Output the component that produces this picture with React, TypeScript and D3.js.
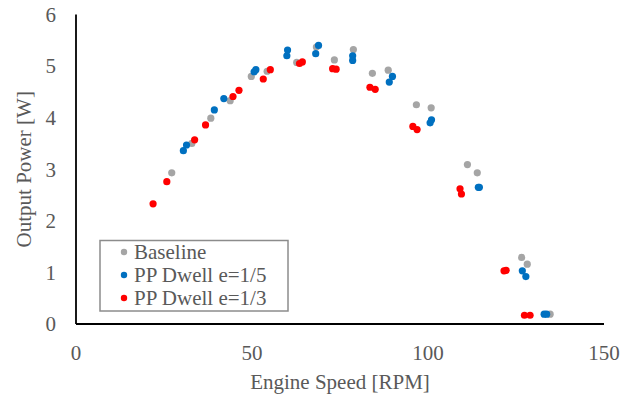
import React from "react";
import * as d3 from "d3";

const xTicks = [0, 50, 100, 150];
const yTicks = [0, 1, 2, 3, 4, 5, 6];

const baselineX = [27.2, 32.9, 38.3, 43.8, 49.8, 54.3, 62.7, 68.3, 73.4, 78.8, 84.2, 88.7, 96.7, 100.9, 111.2, 114.0, 126.6, 128.2, 134.7];
const baselineY = [2.93, 3.5, 3.99, 4.33, 4.8, 4.9, 5.07, 5.37, 5.12, 5.32, 4.86, 4.92, 4.25, 4.19, 3.09, 2.93, 1.29, 1.16, 0.19];

const dwell5X = [30.5, 31.4, 39.3, 42.0, 50.6, 51.1, 59.9, 60.1, 68.1, 68.9, 78.6, 78.6, 89.0, 89.9, 100.6, 101.0, 114.3, 114.6, 126.8, 127.8, 133.0, 133.7];
const dwell5Y = [3.36, 3.47, 4.15, 4.37, 4.89, 4.93, 5.2, 5.31, 5.24, 5.4, 5.2, 5.11, 4.69, 4.8, 3.9, 3.96, 2.65, 2.65, 1.03, 0.92, 0.19, 0.19];

const dwell3X = [21.9, 25.8, 33.7, 36.8, 44.6, 46.3, 53.2, 55.2, 63.5, 64.3, 72.9, 73.9, 83.5, 85.0, 95.7, 96.9, 109.1, 109.5, 121.6, 122.2, 127.4, 129.0];
const dwell3Y = [2.33, 2.76, 3.57, 3.86, 4.41, 4.53, 4.75, 4.93, 5.05, 5.08, 4.95, 4.94, 4.59, 4.55, 3.83, 3.77, 2.62, 2.52, 1.03, 1.04, 0.17, 0.17];

const seriesNames = ["Baseline", "PP Dwell e=1/5", "PP Dwell e=1/3"];
const seriesColors = ["#A5A5A5", "#0070C0", "#FF0000"];

export default function App() {
  const W = 639, H = 403;
  const left = 76, right = 604, top = 14.5, bottom = 324;
  const x = d3.scaleLinear().domain([0, 150]).range([left, right]);
  const y = d3.scaleLinear().domain([0, 6]).range([bottom, top]);
  const series = [
    { xs: baselineX, ys: baselineY },
    { xs: dwell5X, ys: dwell5Y },
    { xs: dwell3X, ys: dwell3Y },
  ];
  const font = "'Liberation Serif', 'Times New Roman', serif";
  const txt = "#595959";
  return (
    <svg width={W} height={H} style={{ position: "absolute", left: 0, top: 0, background: "#fff" }} fontFamily={font}>
      <rect width={W} height={H} fill="#fff" />
      {yTicks.map((t) => (
        <text key={"y" + t} x={56} y={y(t)} dy="0.35em" textAnchor="end" fontSize={21} fill={txt}>{t}</text>
      ))}
      {xTicks.map((t) => (
        <text key={"x" + t} x={x(t)} y={360} textAnchor="middle" fontSize={21} fill={txt}>{t}</text>
      ))}
      {series.map((s, i) => (
        <g key={i}>
          {s.xs.map((v, j) => (
            <circle key={j} cx={x(v)} cy={y(s.ys[j])} r={3.6} fill={seriesColors[i]} />
          ))}
        </g>
      ))}
      <line x1={left} x2={left} y1={top} y2={bottom} stroke="#000" strokeWidth={1.8} />
      <line x1={left} x2={right} y1={bottom} y2={bottom} stroke="#000" strokeWidth={1.8} />
      <text x={(left + right) / 2} y={389} textAnchor="middle" fontSize={21} fill={txt}>Engine Speed [RPM]</text>
      <text transform={`translate(31, ${(top + bottom) / 2}) rotate(-90)`} textAnchor="middle" fontSize={21} fill={txt}>Output Power [W]</text>
      <rect x={100} y={240.5} width={188} height={70.5} fill="#fff" stroke="#8C8C8C" strokeWidth={1.5} />
      {seriesNames.map((n, i) => (
        <g key={n}>
          <circle cx={124} cy={252 + i * 23} r={3.2} fill={seriesColors[i]} />
          <text x={134} y={259 + i * 23} fontSize={21} fill={txt}>{n}</text>
        </g>
      ))}
    </svg>
  );
}
